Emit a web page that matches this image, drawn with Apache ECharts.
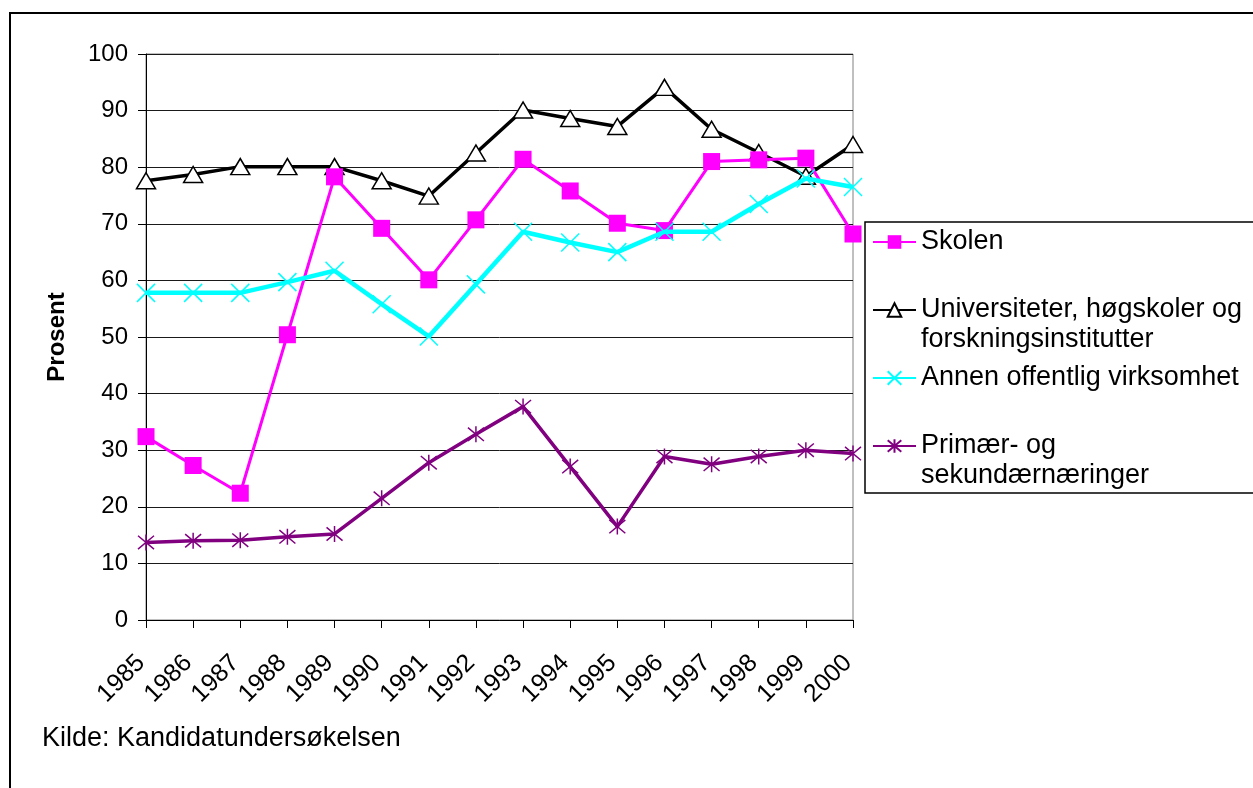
<!DOCTYPE html>
<html>
<head>
<meta charset="utf-8">
<script src="https://cdn.jsdelivr.net/npm/echarts@6/dist/echarts.min.js"></script>
<style>
  html, body { margin: 0; padding: 0; background: #fff; }
  #chart { width: 1253px; height: 788px; }
</style>
</head>
<body>
<div id="chart"></div>
<script>
// Kandidater etter sektor, prosent, 1985–2000
const years = ['1985','1986','1987','1988','1989','1990','1991','1992','1993','1994','1995','1996','1997','1998','1999','2000'];
const yTicks = [0, 10, 20, 30, 40, 50, 60, 70, 80, 90, 100];

const skolen        = [32.4, 27.3, 22.4, 50.4, 78.3, 69.2, 60.1, 70.7, 81.4, 75.8, 70.1, 68.8, 81.0, 81.3, 81.6, 68.2];
const universiteter = [77.6, 78.7, 80.1, 80.1, 80.1, 77.6, 74.9, 82.5, 90.1, 88.6, 87.2, 94.1, 86.7, 82.6, 78.4, 84.0];
const annenOffentlig= [57.8, 57.8, 57.8, 59.7, 61.7, 55.8, 50.1, 59.3, 68.6, 66.7, 65.0, 68.6, 68.6, 73.5, 78.0, 76.5];
const primaer       = [13.7, 14.0, 14.1, 14.7, 15.2, 21.5, 27.8, 32.8, 37.7, 27.1, 16.5, 28.9, 27.5, 28.9, 30.0, 29.4];

const seriesNames = [
  'Skolen',
  'Universiteter, høgskoler og forskningsinstitutter',
  'Annen offentlig virksomhet',
  'Primær- og sekundærnæringer'
];
// Two-line entries get a leading blank line so the icon sits beside the first line
const legendText = {
  'Skolen': 'Skolen',
  'Universiteter, høgskoler og forskningsinstitutter': '\nUniversiteter, høgskoler og\nforskningsinstitutter',
  'Annen offentlig virksomhet': 'Annen offentlig virksomhet',
  'Primær- og sekundærnæringer': '\nPrimær- og\nsekundærnæringer'
};

const FONT = '"Liberation Sans", Arial, sans-serif';
const crossPath = 'path://M0,0L10,10M10,0L0,10';
const starPath  = 'path://M0,0L10,10M10,0L0,10M5,-1L5,11';

const chart = echarts.init(document.getElementById('chart'), null, { renderer: 'canvas' });

chart.setOption({
  animation: false,
  backgroundColor: '#ffffff',
  textStyle: { fontFamily: FONT },
  grid: { left: 146, top: 54, right: 400, bottom: 168, show: true, borderColor: '#808080', borderWidth: 1 },
  legend: {
    orient: 'vertical',
    left: 872,
    top: 227,
    padding: 0,
    itemGap: 8,
    itemWidth: 43,
    itemHeight: 17,
    data: seriesNames,
    formatter: n => legendText[n],
    textStyle: { fontFamily: FONT, fontSize: 27, color: '#000', lineHeight: 30 }
  },
  xAxis: {
    type: 'category',
    data: years,
    boundaryGap: false,
    axisLine: { lineStyle: { color: '#000', width: 1 } },
    axisTick: { show: true, length: 8, inside: false, lineStyle: { color: '#000' } },
    axisLabel: { rotate: 45, margin: 34, fontSize: 25, color: '#000', fontFamily: FONT, padding: [0, 7, 0, 0], interval: 0 },
    splitLine: { show: false }
  },
  yAxis: {
    type: 'value',
    min: yTicks[0],
    max: yTicks[yTicks.length - 1],
    interval: 10,
    axisLine: { show: true, lineStyle: { color: '#000', width: 1 } },
    axisTick: { show: true, length: 8, inside: false, lineStyle: { color: '#000' } },
    axisLabel: { margin: 18, fontSize: 24, color: '#000', fontFamily: FONT },
    splitLine: { show: true, lineStyle: { color: '#1a1a1a', width: 1 } }
  },
  series: [
    {
      name: seriesNames[0], type: 'line', data: skolen,
      symbol: 'rect', symbolSize: 17,
      lineStyle: { color: '#ff00ff', width: 3 },
      itemStyle: { color: '#ff00ff', borderColor: '#ff00ff', borderWidth: 0 },
      z: 4
    },
    {
      name: seriesNames[1], type: 'line', data: universiteter,
      symbol: 'triangle', symbolSize: [19, 16],
      lineStyle: { color: '#000000', width: 3.5 },
      itemStyle: { color: '#ffffff', borderColor: '#000000', borderWidth: 1.5 },
      z: 3
    },
    {
      name: seriesNames[2], type: 'line', data: annenOffentlig,
      symbol: crossPath, symbolSize: 18,
      lineStyle: { color: '#00ffff', width: 4.5 },
      itemStyle: { color: 'rgba(0,0,0,0)', borderColor: '#00ffff', borderWidth: 1.5 },
      z: 5
    },
    {
      name: seriesNames[3], type: 'line', data: primaer,
      symbol: starPath, symbolSize: 16,
      lineStyle: { color: '#800080', width: 3.5 },
      itemStyle: { color: 'rgba(0,0,0,0)', borderColor: '#800080', borderWidth: 1.5 },
      z: 2
    }
  ],
  graphic: [
    {
      type: 'rect', silent: true, z: -1,
      shape: { x: 10, y: 13, width: 1300, height: 800 },
      style: { fill: 'none', stroke: '#000', lineWidth: 2 }
    },
    {
      type: 'rect', silent: true, z: -1,
      shape: { x: 865, y: 222, width: 420, height: 271 },
      style: { fill: '#fff', stroke: '#000', lineWidth: 1.5 }
    },
    {
      type: 'text', silent: true,
      x: 57, y: 337, rotation: Math.PI / 2,
      style: { text: 'Prosent', font: 'bold 24px ' + FONT, fill: '#000', align: 'center', verticalAlign: 'middle' }
    },
    {
      type: 'text', silent: true,
      x: 42, y: 739,
      style: { text: 'Kilde: Kandidatundersøkelsen', font: '27px ' + FONT, fill: '#000', align: 'left', verticalAlign: 'middle' }
    }
  ]
});
</script>
</body>
</html>
